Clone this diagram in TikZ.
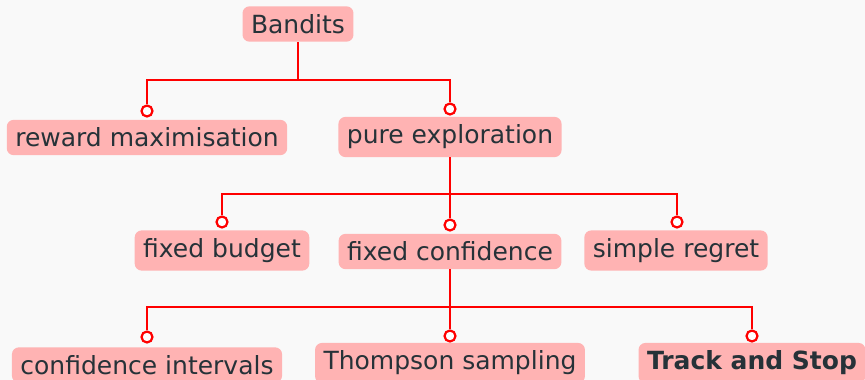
\documentclass[tikz,border=0pt]{standalone}
\usepackage{fontspec}
\setmainfont{DejaVu Sans}

\definecolor{topicfill}{HTML}{FFB3B3}
\definecolor{topictext}{HTML}{263238}
\definecolor{paper}{HTML}{F9F9F9}

\tikzset{
    topic/.style={fill=topicfill, text=topictext, rounded corners=7pt,
        inner xsep=8.5pt, inner ysep=8pt, font=\fontsize{25}{30}\selectfont},
    branch/.style={draw=red, line width=2.3pt},
    knob/.style={circle, draw=red, fill=white, line width=2.2pt,
        inner sep=0pt, minimum size=11pt},
}

\begin{document}
\begin{tikzpicture}[x=1pt, y=-1pt]
    \fill[paper] (0, 0) rectangle (865, 380);
    \useasboundingbox (0, 0) rectangle (865, 380);

    %% topics
    \node[topic] (bandits) at (298, 24) {Bandits};

    \node[topic] (reward) at (147, 137.5) {reward maximisation};
    \node[topic] (pure)   at (450, 137) {pure exploration};

    \node[topic] (budget) at (222, 250.5) {fixed budget};
    \node[topic] (conf)   at (450, 251.5) {fixed confidence};
    \node[topic] (regret) at (676, 250.5) {simple regret};

    \node[topic] (intervals) at (147, 365) {confidence intervals};
    \node[topic] (thompson)  at (450, 363) {Thompson sampling};
    \node[topic] (track)     at (752, 363) {\bfseries Track and Stop};

    %% junctions
    \coordinate (j-bandits) at (298, 80);
    \coordinate (j-pure)    at (450, 194);
    \coordinate (j-conf)    at (450, 307);

    %% end knobs
    \node[knob] (k-reward) at (147, 111) {};
    \node[knob] (k-pure)   at (450, 109) {};
    \node[knob] (k-budget) at (222, 222) {};
    \node[knob] (k-conf)   at (450, 225) {};
    \node[knob] (k-regret) at (677, 222) {};
    \node[knob] (k-intervals) at (147, 337) {};
    \node[knob] (k-thompson)  at (450, 336) {};
    \node[knob] (k-track)     at (752, 336) {};

    % Bandits
    \draw[branch] (bandits.south) -- (j-bandits);
    \draw[branch] (j-bandits) -| (k-reward);
    \draw[branch] (j-bandits) -| (k-pure);

    % pure exploration
    \draw[branch] (pure.south) -- (j-pure);
    \draw[branch] (j-pure) -| (k-budget);
    \draw[branch] (j-pure) -- (k-conf);
    \draw[branch] (j-pure) -| (k-regret);

    % fixed confidence
    \draw[branch] (conf.south) -- (j-conf);
    \draw[branch] (j-conf) -| (k-intervals);
    \draw[branch] (j-conf) -- (k-thompson);
    \draw[branch] (j-conf) -| (k-track);
\end{tikzpicture}
\end{document}
